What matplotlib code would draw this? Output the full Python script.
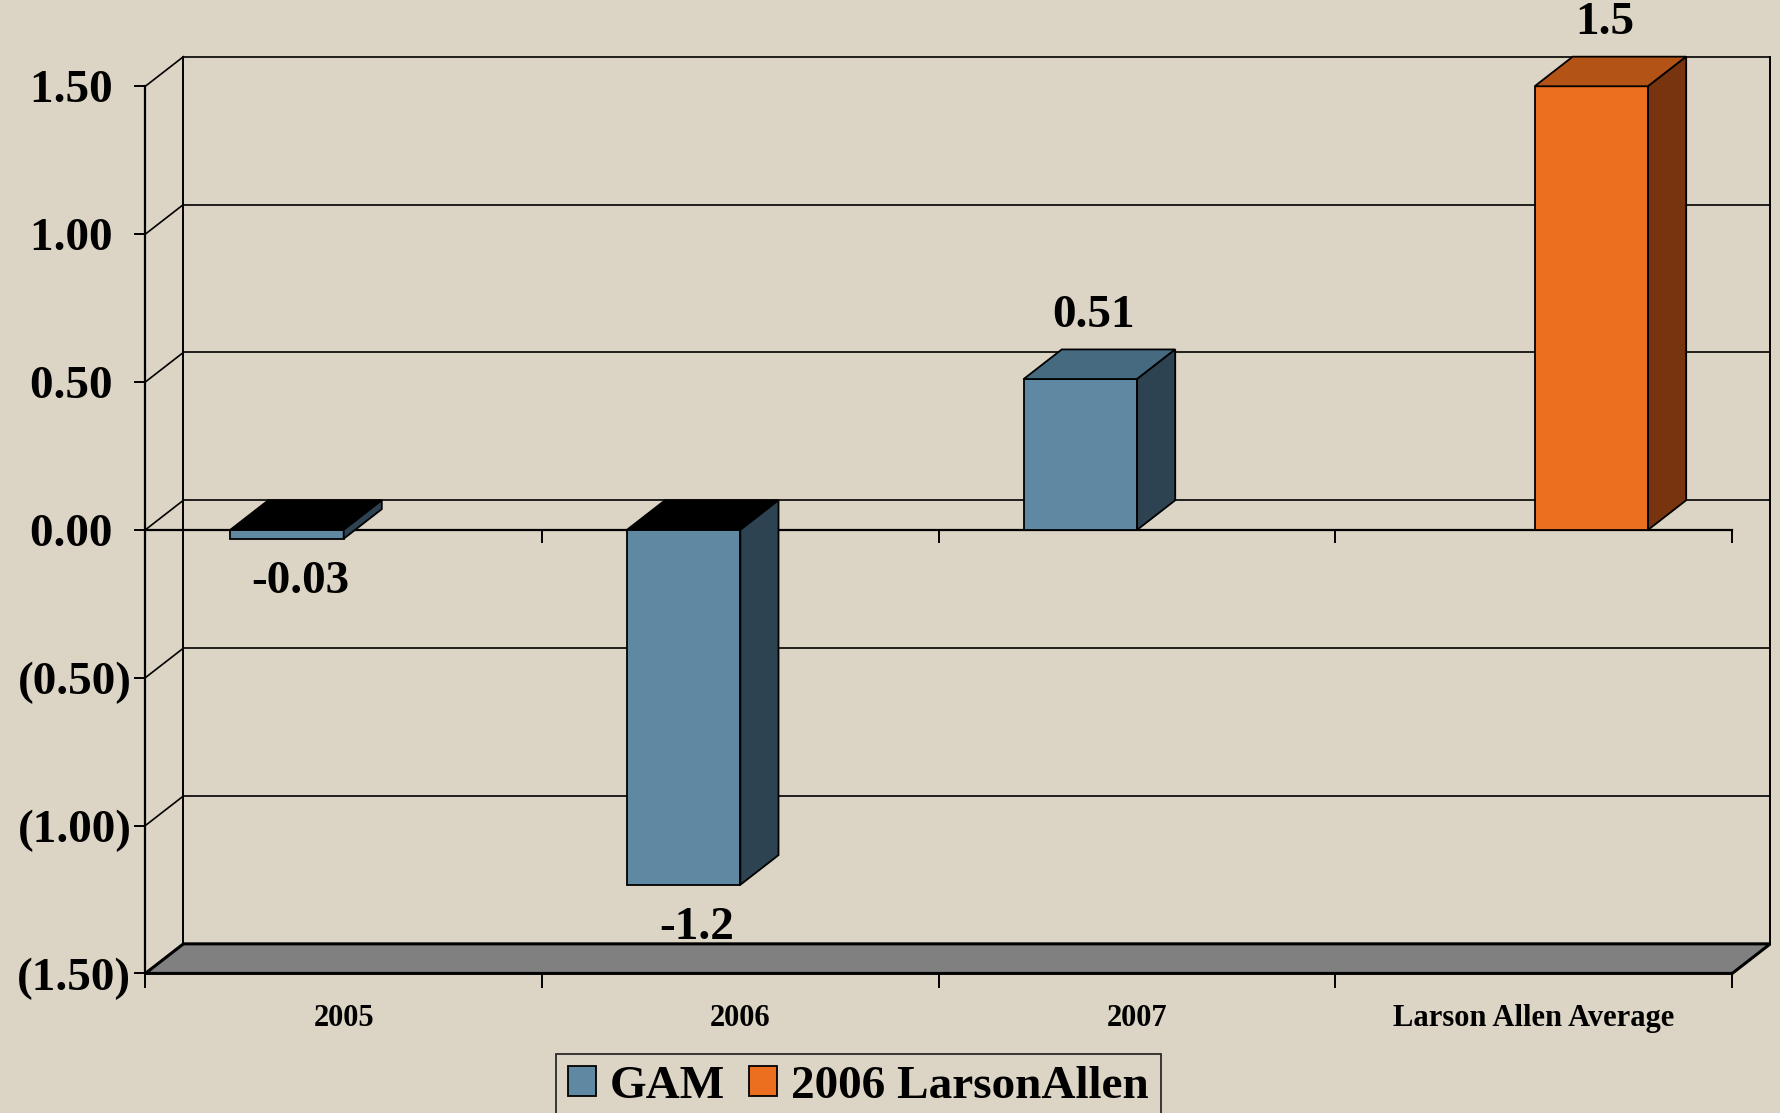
import matplotlib.pyplot as plt
from matplotlib.patches import Polygon
from matplotlib.ticker import FuncFormatter, FixedLocator
import numpy as np

categories = ["2005", "2006", "2007", "Larson Allen Average"]
gam = [-0.03, -1.2, 0.51, np.nan]
larson = [np.nan, np.nan, np.nan, 1.5]
series_names = ["GAM", "2006 LarsonAllen"]

# colours (front, top, side)
bg = "#dcd4c4"
blue = ("#5f88a2", "#466a80", "#2d4351")
orange = ("#ec6e1f", "#b35316", "#77340e")

DX, DY = 0.096, 0.1   # 3d depth offset (category units, value units)
BAR_W = 0.286

plt.rcParams["font.family"] = ["Liberation Serif", "DejaVu Serif"]
plt.rcParams["font.weight"] = "bold"

fig = plt.figure(figsize=(17.81, 11.13), dpi=100, facecolor=bg)
ax = fig.add_axes([0.0816, 0.1254, 0.891, 0.7971])
ax.set_facecolor("none")
ax.set_xlim(0, 4)
ax.set_ylim(-1.5, 1.5)

yticks = [1.5, 1.0, 0.5, 0.0, -0.5, -1.0, -1.5]

# back wall + left wall grid
for yv in yticks:
    ax.plot([DX, 4 + DX], [yv + DY, yv + DY], color="black", lw=1.2, zorder=1, clip_on=False)
    ax.plot([0, DX], [yv, yv + DY], color="black", lw=1.2, zorder=1, clip_on=False)
for xv in [DX, 4 + DX]:
    ax.plot([xv, xv], [-1.5 + DY, 1.5 + DY], color="black", lw=1.4, zorder=1, clip_on=False)

# floor
floor = Polygon([(0, -1.5), (4, -1.5), (4 + DX, -1.5 + DY), (DX, -1.5 + DY)], closed=True,
                facecolor="#808080", edgecolor="black", lw=2.2, zorder=1.5, clip_on=False)
ax.add_patch(floor)

# zero line with category ticks
ax.plot([0, 4], [0, 0], color="black", lw=1.6, zorder=2, clip_on=False)
ax.vlines([1, 2, 3, 4], -0.046, 0, color="black", lw=1.4, zorder=2, clip_on=False)


def draw_bars(xs, vals, cols, label):
    ax.bar(xs, vals, width=BAR_W, color=cols[0], edgecolor="black", lw=1.3, zorder=3, label=label)
    for xc, v in zip(xs, vals):
        if np.isnan(v):
            continue
        l, r = xc - BAR_W / 2, xc + BAR_W / 2
        y0, y1 = min(0, v), max(0, v)
        top_c = "black" if v < 0 else cols[1]
        ax.add_patch(Polygon([(l, y1), (r, y1), (r + DX, y1 + DY), (l + DX, y1 + DY)],
                             facecolor=top_c, edgecolor="black", lw=1.3, zorder=3, clip_on=False))
        ax.add_patch(Polygon([(r, y0), (r, y1), (r + DX, y1 + DY), (r + DX, y0 + DY)],
                             facecolor=cols[2], edgecolor="black", lw=1.3, zorder=3, clip_on=False))
        if v >= 0:
            ax.annotate(f"{v:g}", (xc + DX * 0.35, v + DY), xytext=(0, 9), textcoords="offset points",
                        ha="center", va="bottom", fontsize=34, fontweight="bold", zorder=5,
                        annotation_clip=False)
        else:
            ax.annotate(f"{v:g}", (xc + DX * 0.35, v), xytext=(0, -16), textcoords="offset points",
                        ha="center", va="top", fontsize=34, fontweight="bold", zorder=5,
                        annotation_clip=False)


idx = np.arange(len(categories))
draw_bars(idx + 0.357, gam, blue, series_names[0])
draw_bars(idx + 0.645, larson, orange, series_names[1])

# axes styling
for s in ["top", "right"]:
    ax.spines[s].set_visible(False)
ax.spines["left"].set_linewidth(1.6)
ax.spines["bottom"].set_visible(False)

ax.yaxis.set_major_locator(FixedLocator(yticks))
ax.yaxis.set_major_formatter(FuncFormatter(lambda v, p: f"{v:.2f}\u2009\u2009" if v >= 0 else f"({abs(v):.2f})"))
ax.tick_params(axis="y", direction="out", length=8, width=1.4, pad=2, labelsize=34)

ax.set_xticks(idx + 0.5)
ax.set_xticklabels(categories, fontsize=22, fontweight="bold")
ax.set_xticks(np.arange(5), minor=True)
ax.tick_params(axis="x", which="major", length=0, pad=22)
ax.tick_params(axis="x", which="minor", length=10.5, width=1.4, direction="out")
ax.spines["left"].set_bounds(-1.5, 1.5)
for lab in ax.get_yticklabels():
    lab.set_fontweight("bold")

leg = fig.legend(loc="upper center", bbox_to_anchor=(0.482, 0.053), ncol=2, frameon=True,
                 fontsize=34, handlelength=0.6, handleheight=0.6, handletextpad=0.3,
                 columnspacing=0.5, borderaxespad=0, borderpad=0.25, fancybox=False)
leg.get_frame().set_edgecolor("black")
leg.get_frame().set_facecolor(bg)
leg.get_frame().set_linewidth(1.3)
for t in leg.get_texts():
    t.set_fontweight("bold")

fig.savefig("out.png", dpi=100, facecolor=bg)
